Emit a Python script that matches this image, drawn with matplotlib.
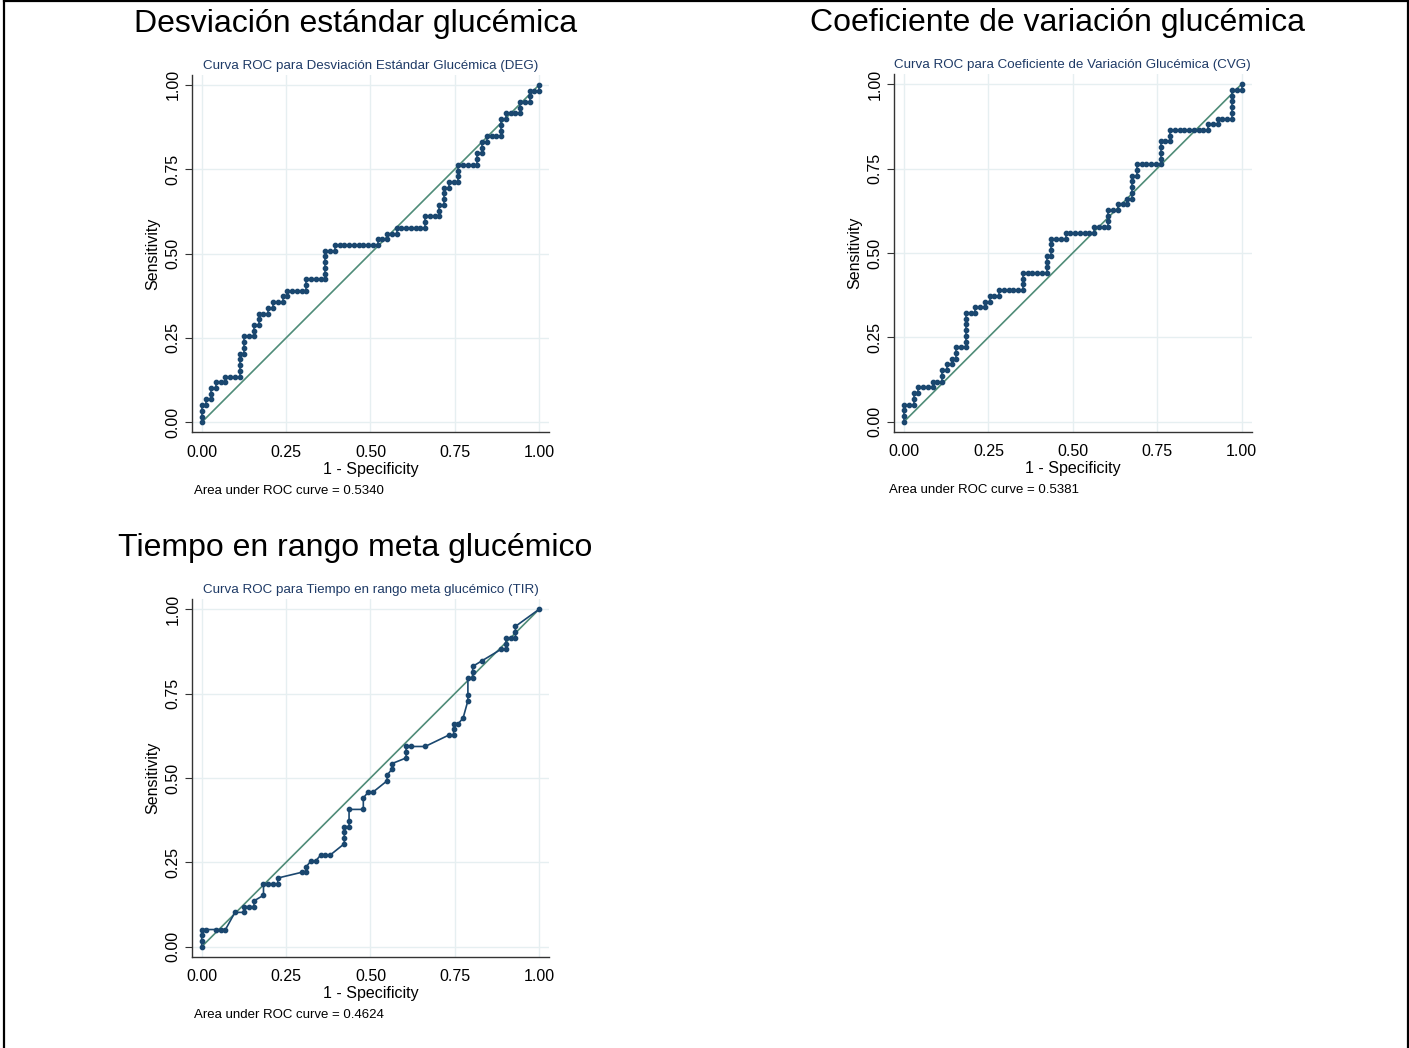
import numpy as np
from matplotlib import pyplot as plt
from matplotlib.lines import Line2D

plt.rcParams['font.family'] = ['Liberation Sans', 'DejaVu Sans']

# sample sizes (negatives / positives)
n_neg = 71
n_pos = 59

# DEG: step path as run lengths, alternating up (sensitivity) then right (1 - specificity)
deg_up = [3, 1, 2, 1, 1, 4, 3, 2, 2, 1, 1, 1, 1, 2, 5, 1, 1, 1, 1, 2, 2, 3, 1, 3, 2, 2, 1, 3, 1, 2, 2, 1]
deg_right = [1, 1, 1, 2, 3, 1, 2, 1, 2, 1, 2, 1, 4, 4, 2, 9, 2, 2, 6, 3, 1, 1, 2, 4, 1, 1, 3, 1, 3, 2, 2]

# CVG: same encoding
cvg_up = [3, 2, 1, 1, 2, 1, 1, 2, 6, 1, 1, 1, 1, 3, 3, 3, 1, 1, 3, 1, 1, 4, 2, 4, 2, 1, 1, 5, 1]
cvg_right = [2, 1, 3, 2, 1, 1, 1, 2, 2, 2, 1, 2, 5, 5, 1, 3, 6, 3, 2, 2, 1, 1, 5, 2, 8, 2, 3, 2]

# TIR has ties, so points are listed as (false positives, true positives) counts
tir_fp = [0, 0, 0, 0, 1, 3, 4, 5, 7, 9, 9, 10, 11, 11, 13, 13, 14, 15, 16, 16, 21, 22, 22, 23, 24,
          25, 26, 27, 30, 30, 30, 30, 31, 31, 31, 34, 34, 35, 36, 39, 39, 40, 40, 43, 43, 43, 44, 47,
          52, 53, 53, 53, 54, 55, 56, 56, 56, 57, 57, 57, 59, 63, 64, 64, 64, 65, 66, 66, 66, 71]
tir_tp = [0, 1, 2, 3, 3, 3, 3, 3, 6, 6, 7, 7, 7, 8, 9, 11, 11, 11, 11, 12, 13, 13, 14, 15, 15,
          16, 16, 16, 18, 19, 20, 21, 21, 22, 24, 24, 26, 27, 27, 29, 30, 31, 32, 33, 34, 35, 35, 35,
          37, 37, 38, 39, 39, 40, 43, 44, 47, 47, 48, 49, 50, 52, 52, 53, 54, 54, 54, 55, 56, 59]

big_titles = ["Desviación estándar glucémica", "Coeficiente de variación glucémica",
              "Tiempo en rango meta glucémico"]
sub_titles = ["Curva ROC para Desviación Estándar Glucémica (DEG)",
              "Curva ROC para Coeficiente de Variación Glucémica (CVG)",
              "Curva ROC para Tiempo en rango meta glucémico (TIR)"]
auc_notes = ["Area under ROC curve = 0.5340", "Area under ROC curve = 0.5381",
             "Area under ROC curve = 0.4624"]
ticks = [0, 0.25, 0.5, 0.75, 1.0]
tick_labels = ["0.00", "0.25", "0.50", "0.75", "1.00"]

NAVY = '#1a476f'
DIAG = '#4f8c78'
GRID = '#e6eff1'


def step_path(ups, rights):
    fp, tp = [0], [0]
    for i, u in enumerate(ups):
        for _ in range(u):
            fp.append(fp[-1])
            tp.append(tp[-1] + 1)
        if i < len(rights):
            for _ in range(rights[i]):
                fp.append(fp[-1] + 1)
                tp.append(tp[-1])
    return np.array(fp) / n_neg, np.array(tp) / n_pos


W, H = 1409, 1048
S = 337.5
fig = plt.figure(figsize=(W / 100, H / 100), dpi=100)


def roc_panel(x0, y0, fpr, tpr, big, sub, note, note_x):
    left = x0 - 0.03 * S
    bottom = y0 + 0.03 * S
    size = 1.06 * S
    ax = fig.add_axes([left / W, 1 - bottom / H, size / W, size / H])
    ax.set_xlim(-0.03, 1.03)
    ax.set_ylim(-0.03, 1.03)
    ax.set_xticks(ticks)
    ax.set_xticklabels(tick_labels)
    ax.set_yticks(ticks)
    ax.set_yticklabels(tick_labels, rotation=90, va='center')
    ax.tick_params(axis='x', length=0, pad=9, labelsize=11.5, colors='black')
    ax.tick_params(axis='y', length=5, width=0.8, pad=3, labelsize=11.5, color='#333333')
    for s in ['top', 'right']:
        ax.spines[s].set_visible(False)
    for s in ['left', 'bottom']:
        ax.spines[s].set_color('#333333')
        ax.spines[s].set_linewidth(1.0)
    ax.grid(True, color=GRID, linewidth=1.0)
    ax.set_axisbelow(True)

    ax.plot([0, 1], [0, 1], color=DIAG, linewidth=1.2, zorder=2)
    ax.plot(fpr, tpr, '-o', color=NAVY, linewidth=1.2, markersize=3.1, zorder=3)

    ax.text(0.5, 1.025, sub, transform=ax.transAxes, ha='center', va='center',
            fontsize=9.6, color='#1e3a66')
    ax.text(0.5, -0.1026, "1 - Specificity", transform=ax.transAxes, ha='center',
            va='center', fontsize=11.5)
    ax.text(-0.108, 0.5, "Sensitivity", transform=ax.transAxes, ha='center',
            va='center', rotation=90, fontsize=11.5)

    fig.text((x0 + 0.5 * S - 15) / W, 1 - (y0 - 1.03 * S - 51) / H, big,
             ha='center', va='center', fontsize=23)
    fig.text(note_x / W, 1 - (y0 + 0.03 * S + 58.5) / H, note,
             ha='left', va='center', fontsize=9.5)
    return ax


deg_x, deg_y = step_path(deg_up, deg_right)
cvg_x, cvg_y = step_path(cvg_up, cvg_right)
tir_x = np.array(tir_fp) / n_neg
tir_y = np.array(tir_tp) / n_pos

roc_panel(201.7, 422.3, deg_x, deg_y, big_titles[0], sub_titles[0], auc_notes[0], 194)
roc_panel(904.0, 421.7, cvg_x, cvg_y, big_titles[1], sub_titles[1], auc_notes[1], 889)
roc_panel(201.7, 946.7, tir_x, tir_y, big_titles[2], sub_titles[2], auc_notes[2], 194)

# outer frame (left, top, right)
for xs, ys in [([4, 4], [0, H]), ([4, 1408], [1, 1]), ([1408, 1408], [0, H])]:
    fig.add_artist(Line2D([x / W for x in xs], [1 - y / H for y in ys],
                          color='black', linewidth=1.6, transform=fig.transFigure))

fig.savefig("out.png", dpi=100)
